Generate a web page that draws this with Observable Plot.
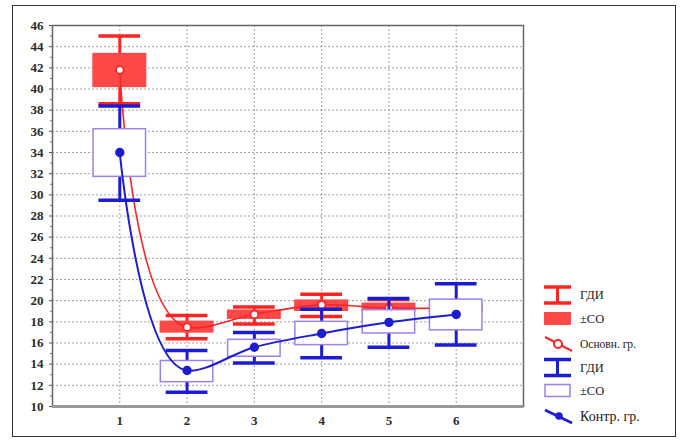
<!DOCTYPE html>
<html><head><meta charset="utf-8">
<script src="https://cdn.jsdelivr.net/npm/d3@7"></script>
<script src="https://cdn.jsdelivr.net/npm/@observablehq/plot@0.6"></script>
<style>
body{margin:0;background:#fff}
#wrap{position:relative;width:680px;height:441px;overflow:hidden;font-family:"Liberation Serif","Times New Roman",Tinos,"DejaVu Serif",serif}
#wrap svg text{font-family:"Liberation Serif","Times New Roman",Tinos,"DejaVu Serif",serif !important}
#border{position:absolute;left:12px;top:5px;width:664px;height:432px;border:1.5px solid #333;box-sizing:border-box;pointer-events:none}
#legend{position:absolute;left:0;top:0}
</style></head><body><div id="wrap"><div id="border"></div></div>
<script>
const points = [1, 2, 3, 4, 5, 6];
const mainMean = [41.8, 17.5, 18.7, 19.6, 19.3, 19.3];
const mainSdLo = [40.2, 17.0, 18.3, 19.05, 19.0, 19.0];
const mainSdHi = [43.3, 18.0, 19.05, 20.0, 19.7, 19.6];
const mainCiLo = [38.6, 16.4, 17.8, 18.5, 18.9, 18.8];
const mainCiHi = [45.0, 18.6, 19.4, 20.6, 20.1, 19.9];
const ctrlMean = [34.0, 13.4, 15.6, 16.9, 17.95, 18.7];
const ctrlSdLo = [31.7, 12.3, 14.7, 15.8, 16.9, 17.2];
const ctrlSdHi = [36.2, 14.3, 16.3, 18.0, 19.1, 20.1];
const ctrlCiLo = [29.5, 11.35, 14.1, 14.6, 15.6, 15.8];
const ctrlCiHi = [38.4, 15.3, 17.0, 19.2, 20.2, 21.6];
const yTicks = d3.range(10, 47, 2);
const yMinor = d3.range(11, 46, 2);
const legendLabels = ["ГДИ", "±СО", "Основн. гр.", "ГДИ", "±СО", "Контр. гр."];

const RED = "#ff2424", RED_FILL = "#ff4848", BLUE = "#1c1cd2", VIOLET = "#9d80f0";
const BOX = 0.39, CAP = 0.31;
const FONT = "Liberation Serif, Times New Roman, Tinos, DejaVu Serif, serif";

const mk = (mean, sl, sh, cl, ch) => points.map((x, i) => ({x, mean: mean[i], sl: sl[i], sh: sh[i], cl: cl[i], ch: ch[i]}));
const main = mk(mainMean, mainSdLo, mainSdHi, mainCiLo, mainCiHi);
const ctrl = mk(ctrlMean, ctrlSdLo, ctrlSdHi, ctrlCiLo, ctrlCiHi);

const smooth = d3.curveCatmullRom.alpha(0.8);

function series(data, color, boxFill, boxStroke, dotFill, lineW) {
  return [
    Plot.ruleX(data, {x: "x", y1: "cl", y2: "ch", stroke: color, strokeWidth: 3}),
    Plot.ruleY(data, {y: "ch", x1: d => d.x - CAP, x2: d => d.x + CAP, stroke: color, strokeWidth: 3.5}),
    Plot.ruleY(data, {y: "cl", x1: d => d.x - CAP, x2: d => d.x + CAP, stroke: color, strokeWidth: 3.5}),
    Plot.rect(data, {x1: d => d.x - BOX, x2: d => d.x + BOX, y1: "sl", y2: "sh", fill: boxFill, stroke: boxStroke, strokeWidth: 1.5}),
    Plot.line(data, {x: "x", y: "mean", stroke: color, strokeWidth: lineW, curve: smooth}),
    Plot.dot(data, {x: "x", y: "mean", r: 3.8, fill: dotFill, stroke: color, strokeWidth: 1.8})
  ];
}

const chart = Plot.plot({
  width: 680, height: 441,
  marginLeft: 52, marginRight: 157, marginTop: 25, marginBottom: 35,
  x: {domain: [0, 7], label: null},
  y: {domain: [10, 46], label: null},
  style: {fontFamily: FONT, fontSize: "13px", color: "#2a2a2a", background: "transparent"},
  marks: [
    Plot.gridY(yTicks, {stroke: "#777", strokeOpacity: 0.7, strokeDasharray: "2,2"}),
    Plot.gridX(points, {stroke: "#777", strokeOpacity: 0.7, strokeDasharray: "2,2"}),
    Plot.frame({stroke: "#666", strokeWidth: 1.5}),
    Plot.ruleY([10], {stroke: "#999", strokeWidth: 3}),
    Plot.axisY(yTicks, {tickSize: 3, tickPadding: 6, stroke: "#555", fontWeight: "bold", fontFamily: FONT, label: null}),
    Plot.axisY(yMinor, {tickSize: 2, tickFormat: () => "", stroke: "#777", label: null}),
    Plot.axisX(points, {tickSize: 0, tickPadding: 9, fontWeight: "bold", fontFamily: FONT, label: null}),
    ...series(main, RED, RED_FILL, RED_FILL, "white", 1.6),
    ...series(ctrl, BLUE, "white", VIOLET, BLUE, 2)
  ]
});
document.getElementById("wrap").prepend(chart);

// legend
const svg = d3.select("#wrap").append("svg").attr("id", "legend").attr("width", 680).attr("height", 441);
const rows = [295, 318.5, 344, 367.5, 390.5, 416];
const x0 = 544, x1 = 571;
const g = svg.append("g");
function iBeam(y, c) {
  g.append("line").attr("x1", x0).attr("x2", x1).attr("y1", y - 8).attr("y2", y - 8).attr("stroke", c).attr("stroke-width", 3.5);
  g.append("line").attr("x1", x0).attr("x2", x1).attr("y1", y + 8).attr("y2", y + 8).attr("stroke", c).attr("stroke-width", 3.5);
  g.append("line").attr("x1", (x0 + x1) / 2).attr("x2", (x0 + x1) / 2).attr("y1", y - 8).attr("y2", y + 8).attr("stroke", c).attr("stroke-width", 3);
}
iBeam(rows[0], RED);
g.append("rect").attr("x", x0).attr("y", rows[1] - 6.5).attr("width", x1 - x0).attr("height", 13).attr("fill", RED_FILL);
g.append("line").attr("x1", x0 + 1).attr("y1", rows[2] - 7).attr("x2", x1 + 1).attr("y2", rows[2] + 7).attr("stroke", RED).attr("stroke-width", 2);
g.append("circle").attr("cx", 558).attr("cy", rows[2]).attr("r", 4).attr("fill", "white").attr("stroke", RED).attr("stroke-width", 2);
iBeam(rows[3], BLUE);
g.append("rect").attr("x", x0 + 1).attr("y", rows[4] - 6).attr("width", x1 - x0 - 2).attr("height", 12).attr("fill", "white").attr("stroke", VIOLET).attr("stroke-width", 1.5);
g.append("line").attr("x1", x0 + 1).attr("y1", rows[5] - 6).attr("x2", x1 + 1).attr("y2", rows[5] + 7).attr("stroke", BLUE).attr("stroke-width", 2.5);
g.append("circle").attr("cx", 559).attr("cy", rows[5]).attr("r", 3.8).attr("fill", BLUE);
const sizes = [12.5, 12.5, 11.5, 12.5, 12.5, 14];
legendLabels.forEach((t, i) => {
  g.append("text").attr("x", 580).attr("y", rows[i]).attr("dy", "0.35em")
    .attr("font-family", FONT)
    .attr("font-size", sizes[i]).attr("fill", "#222").text(t);
});
</script>
</body></html>
